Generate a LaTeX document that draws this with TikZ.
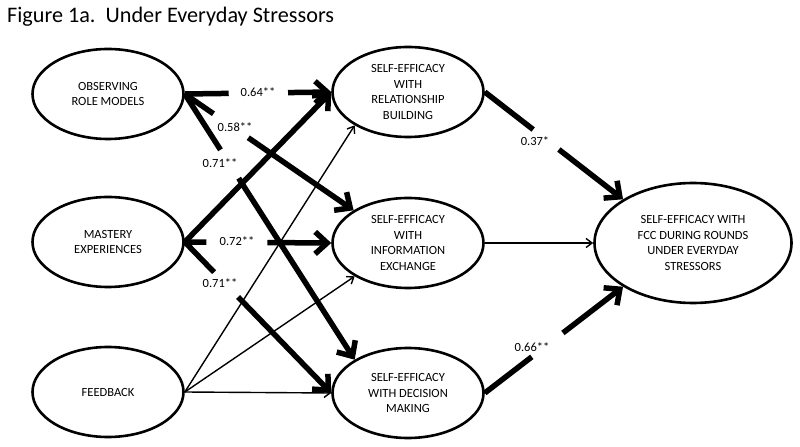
\documentclass[tikz,border=0pt]{standalone}
\usepackage{fontspec}
\setmainfont{Carlito}
\usetikzlibrary{shapes.geometric,arrows.meta,calc}
\begin{document}
\begin{tikzpicture}[x=1bp,y=-1bp,
  ell/.style={draw, ellipse, line width=2.6bp, inner sep=0pt, minimum width=151bp, minimum height=90bp, align=center, font=\fontsize{12.5bp}{15.5bp}\selectfont},
  thickarrow/.style={line width=5.5bp, -{Straight Barb[length=12bp,width=22bp]}},
  thickseg/.style={line width=5.5bp},
  thinarrow/.style={line width=1.4bp, -{Straight Barb[length=6bp,width=9bp]}},
  lbl/.style={font=\fontsize{12.5bp}{14bp}\selectfont, inner sep=0pt}
]
\useasboundingbox (0,0) rectangle (800,447);
\node[anchor=base west, font=\fontsize{22.2bp}{26bp}\selectfont, inner sep=0pt] (title) at (7,23) {Figure 1a.\ \ Under Everyday Stressors};

\node[ell] (obs) at (108,94) {OBSERVING\\ROLE MODELS};
\node[ell] (mast) at (108,242) {MASTERY\\EXPERIENCES};
\node[ell] (fb) at (108,392) {FEEDBACK};
\node[ell] (rel) at (408,92) {SELF-EFFICACY\\WITH\\RELATIONSHIP\\BUILDING};
\node[ell] (info) at (408,243) {SELF-EFFICACY\\WITH\\INFORMATION\\EXCHANGE};
\node[ell] (dec) at (408,393) {SELF-EFFICACY\\WITH DECISION\\MAKING};
\node[ell, minimum width=197bp, minimum height=120bp] (out) at (693,243) {SELF-EFFICACY WITH\\FCC DURING ROUNDS\\UNDER EVERYDAY\\STRESSORS};

% Observing -> Relationship (0.64**)
\coordinate (g1a) at ($(obs.east)!0.30!(rel.west)$);
\coordinate (g1b) at ($(obs.east)!0.705!(rel.west)$);
\draw[thickseg] (obs.east) -- (g1a);
\draw[thickarrow] (g1b) -- (rel.west);
% Observing -> Information (0.58**)
\coordinate (g2a) at ($(obs.east)!0.17!(info.149)$);
\coordinate (g2b) at ($(obs.east)!0.376!(info.149)$);
\draw[thickseg] (obs.east) -- (g2a);
\draw[thickarrow] (g2b) -- (info.149);
% Observing -> Decision (0.71**)
\coordinate (g3a) at ($(obs.east)!0.21!(dec.148)$);
\coordinate (g3b) at ($(obs.east)!0.317!(dec.148)$);
\draw[thickseg] (obs.east) -- (g3a);
\draw[thickarrow] (g3b) -- (dec.148);
% Mastery -> Relationship
\draw[thickarrow] (mast.east) -- (rel.west);
% Mastery -> Information (0.72**)
\coordinate (g4a) at ($(mast.east)!0.148!(info.west)$);
\coordinate (g4b) at ($(mast.east)!0.564!(info.west)$);
\draw[thickseg] (mast.east) -- (g4a);
\draw[thickarrow] (g4b) -- (info.west);
% Mastery -> Decision (0.71**)
\coordinate (g5a) at ($(mast.east)!0.20!(dec.west)$);
\coordinate (g5b) at ($(mast.east)!0.364!(dec.west)$);
\draw[thickseg] (mast.east) -- (g5a);
\draw[thickarrow] (g5b) -- (dec.west);
% Relationship -> Outcome (0.37*)
\coordinate (g6a) at ($(rel.east)!0.35!(out.148)$);
\coordinate (g6b) at ($(rel.east)!0.536!(out.148)$);
\draw[thickseg] (rel.east) -- (g6a);
\draw[thickarrow] (g6b) -- (out.148);
% Decision -> Outcome (0.66**)
\coordinate (g7a) at ($(dec.east)!0.34!(out.212)$);
\coordinate (g7b) at ($(dec.east)!0.565!(out.212)$);
\draw[thickseg] (dec.east) -- (g7a);
\draw[thickarrow] (g7b) -- (out.212);

% thin arrows
\draw[thinarrow] (fb.east) -- (rel.212);
\draw[thinarrow] (fb.east) -- (info.212);
\draw[thinarrow] (fb.east) -- (dec.west);
\draw[thinarrow] (info.east) -- (out.west);

% labels
\node[lbl] (l1) at (258,92) {0.64**};
\node[lbl] (l2) at (235,127) {0.58**};
\node[lbl] (l3) at (220,163) {0.71**};
\node[lbl] (l4) at (237,241) {0.72**};
\node[lbl] (l5) at (220,283) {0.71**};
\node[lbl] (l6) at (535,141) {0.37*};
\node[lbl] (l7) at (532,347) {0.66**};
\end{tikzpicture}
\end{document}
